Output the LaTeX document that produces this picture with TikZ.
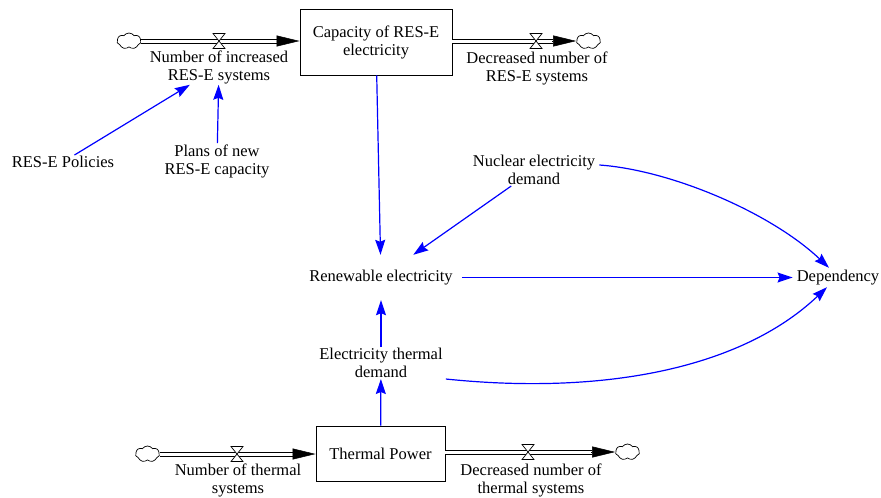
\documentclass[tikz,border=0pt]{standalone}
\usepackage{fontspec}
\setmainfont{Liberation Serif}
\usetikzlibrary{arrows.meta,shapes.symbols,calc}
\newcommand\drawvalve[1]{%
  \draw[vlv] ($(#1)+(-6,-7.5)$) -- ($(#1)+(6,-7.5)$) -- ($(#1)+(-6,7.5)$) -- ($(#1)+(6,7.5)$) -- cycle;}
\begin{document}
\begin{tikzpicture}[x=1pt,y=-1pt,
  txt/.style={font=\fontsize{16.5}{18}\selectfont, align=center, inner xsep=3pt, inner ysep=1pt},
  stock/.style={txt, draw, line width=0.9pt},
  blink/.style={color=blue, line width=1.2pt, -{Stealth[length=15pt,width=10pt,inset=2pt]}},
  pipe/.style={draw=black, double=white, double distance=3pt, line width=1pt},
  ftip/.style={-{Triangle[length=23pt,width=11pt]}, line width=0.5pt},
  vlv/.style={draw, fill=white, line width=0.7pt},
  cloudst/.style={cloud, draw, fill=white, cloud puffs=7, cloud puff arc=110, aspect=1.5,
    minimum width=24pt, minimum height=16pt, inner sep=0pt, line width=0.7pt}
]
\useasboundingbox (0,0) rectangle (881,498);

% stocks
\node[stock, minimum width=152pt, minimum height=66pt] (cap) at (376,42) {Capacity of RES-E\\electricity};
\node[stock, minimum width=129pt, minimum height=55pt] (tp) at (380.5,453.5) {Thermal Power};

% clouds
\node[cloudst] (cl1) at (129,41) {};
\node[cloudst] (cl2) at (588.5,41) {};
\node[cloudst] (cl3) at (147.5,454) {};
\node[cloudst] (cl4) at (627.5,452) {};

% pipes
\draw[pipe] (cl1.east) -- ($(cl1.east -| cap.west)+(-22,0)$);
\draw[ftip] ($(cl1.east -| cap.west)+(-23,0)$) -- (cl1.east -| cap.west);
\draw[pipe] (cap.east |- cl2.west) -- ($(cl2.west)+(-23,0)$);
\draw[ftip] ($(cl2.west)+(-24,0)$) -- (cl2.west);
\draw[pipe] (cl3.east) -- ($(cl3.east -| tp.west)+(-22,0)$);
\draw[ftip] ($(cl3.east -| tp.west)+(-23,0)$) -- (cl3.east -| tp.west);
\draw[pipe] (tp.east |- cl4.west) -- ($(cl4.west)+(-23,0)$);
\draw[ftip] ($(cl4.west)+(-24,0)$) -- (cl4.west);

% valves
\coordinate (v1) at (219,41);
\coordinate (v2) at (536,41);
\coordinate (v3) at (237,454);
\coordinate (v4) at (528,452);
\drawvalve{v1}\drawvalve{v2}\drawvalve{v3}\drawvalve{v4}

% flow labels
\node[txt] (inc) at (219,67) {Number of increased\\RES-E systems};
\node[txt] (decR) at (537,68.5) {Decreased number of\\RES-E systems};
\node[txt] (nth) at (238,480.5) {Number of thermal\\systems};
\node[txt] (decT) at (531,480) {Decreased number of\\thermal systems};

% auxiliaries
\node[txt] (pol) at (63,162) {RES-E Policies};
\node[txt] (plans) at (217,161) {Plans of new\\RES-E capacity};
\node[txt, inner xsep=9pt, inner ysep=15pt] (ren) at (381,277.5) {Renewable electricity};
\node[txt] (nuc) at (534,170) {Nuclear electricity\\demand};
\node[txt, inner xsep=4pt, inner ysep=2pt] (dep) at (838,277.5) {Dependency};
\node[txt] (etd) at (381,363) {Electricity thermal\\demand};

% links
\draw[blink] (pol) -- (inc);
\draw[blink] (plans) -- (inc);
\draw[blink] (cap) -- (ren);
\draw[blink] (nuc) -- (ren);
\draw[blink] (etd) -- (ren);
\draw[blink] (tp) -- (etd);
\draw[blink] (ren) -- (dep);
\draw[blink] ($(nuc.east)+(1,-5)$) .. controls (670,170) and (770,212) .. ($(dep.north)+(-9,0)$);
\draw[blink] (etd.south east) .. controls (600,395) and (740,370) .. ($(dep.south)+(-11,0)$);
\end{tikzpicture}
\end{document}
